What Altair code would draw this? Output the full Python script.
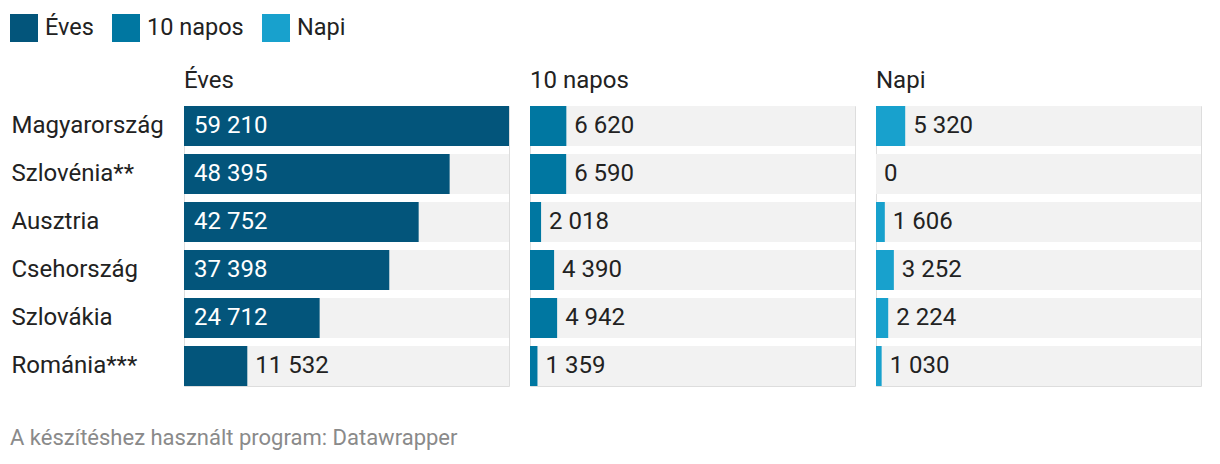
import altair as alt
import pandas as pd

countries = ["Magyarország", "Szlovénia**", "Ausztria", "Csehország", "Szlovákia", "Románia***"]
eves = [59210, 48395, 42752, 37398, 24712, 11532]
tiz_napos = [6620, 6590, 2018, 4390, 4942, 1359]
napi = [5320, 0, 1606, 3252, 2224, 1030]
measures = ["Éves", "10 napos", "Napi"]
colors = ["#03557b", "#0077a1", "#18a1cd"]

rows = []
for m, vals in zip(measures, [eves, tiz_napos, napi]):
    for c, v in zip(countries, vals):
        rows.append({"country": c, "measure": m, "value": v})
df = pd.DataFrame(rows)

maxv = max(eves + tiz_napos + napi)
threshold = 0.3 * maxv
FONT = "Roboto"
FS = 24

xscale = alt.Scale(domain=[0, maxv], nice=False, zero=True)
yenc = alt.Y("country:N", sort=countries, title=None,
             scale=alt.Scale(paddingInner=8 / 48, paddingOuter=0),
             axis=alt.Axis(labelAlign="left", labelPadding=172, ticks=False, tickSize=0,
                           domain=False, labelFont=FONT, labelFontSize=FS,
                           labelColor="#222222", labelBaseline="middle"))

base = alt.Chart().transform_calculate(
    maxv=str(maxv),
    zero="0",
    label="replace(format(datum.value, ','), ',', ' ')",
)

bg = base.mark_bar(color="#f2f2f2").encode(
    y=yenc,
    x=alt.X("maxv:Q", scale=xscale, axis=None),
)

bars = base.mark_bar().encode(
    y=alt.Y("country:N", sort=countries),
    x=alt.X("value:Q", scale=xscale, axis=None),
    color=alt.Color("measure:N", scale=alt.Scale(domain=measures, range=colors),
                    legend=alt.Legend(title=None, orient="none", legendX=-174, legendY=-92,
                                      direction="horizontal", symbolType="square",
                                      symbolSize=784, symbolStrokeWidth=0, symbolOpacity=1,
                                      labelFont=FONT, labelFontSize=23.5, labelColor="#222222",
                                      labelOffset=7, columnPadding=18)),
)

txt_in = base.transform_filter(f"datum.value >= {threshold}").mark_text(
    align="left", baseline="middle", dx=10, color="white", font=FONT, fontSize=FS
).encode(
    y=alt.Y("country:N", sort=countries),
    x=alt.X("zero:Q", scale=xscale, axis=None),
    text="label:N",
)

txt_out = base.transform_filter(f"datum.value < {threshold}").mark_text(
    align="left", baseline="middle", dx=8, color="#222222", font=FONT, fontSize=FS
).encode(
    y=alt.Y("country:N", sort=countries),
    x=alt.X("value:Q", scale=xscale, axis=None),
    text="label:N",
)

layered = alt.layer(bg, bars, txt_in, txt_out).properties(width=325, height=280)

chart = layered.facet(
    data=df,
    column=alt.Column("measure:N", sort=measures, title=None,
                      header=alt.Header(labelAnchor="start", labelAlign="left",
                                        labelFont=FONT, labelFontSize=FS, labelColor="#222222",
                                        labelPadding=12, labelOrient="top")),
    spacing=19,
).properties(
    title=alt.TitleParams("A készítéshez használt program: Datawrapper", orient="bottom",
                          anchor="start", frame="bounds", font=FONT, fontSize=22,
                          fontWeight="normal", color="#8a8a8a", offset=41),
    padding={"left": 10, "top": 14, "right": 5, "bottom": 5},
).configure_view(stroke=None).configure(background="white")

chart.save("out.html", embed_options={"renderer": "svg", "actions": False})
